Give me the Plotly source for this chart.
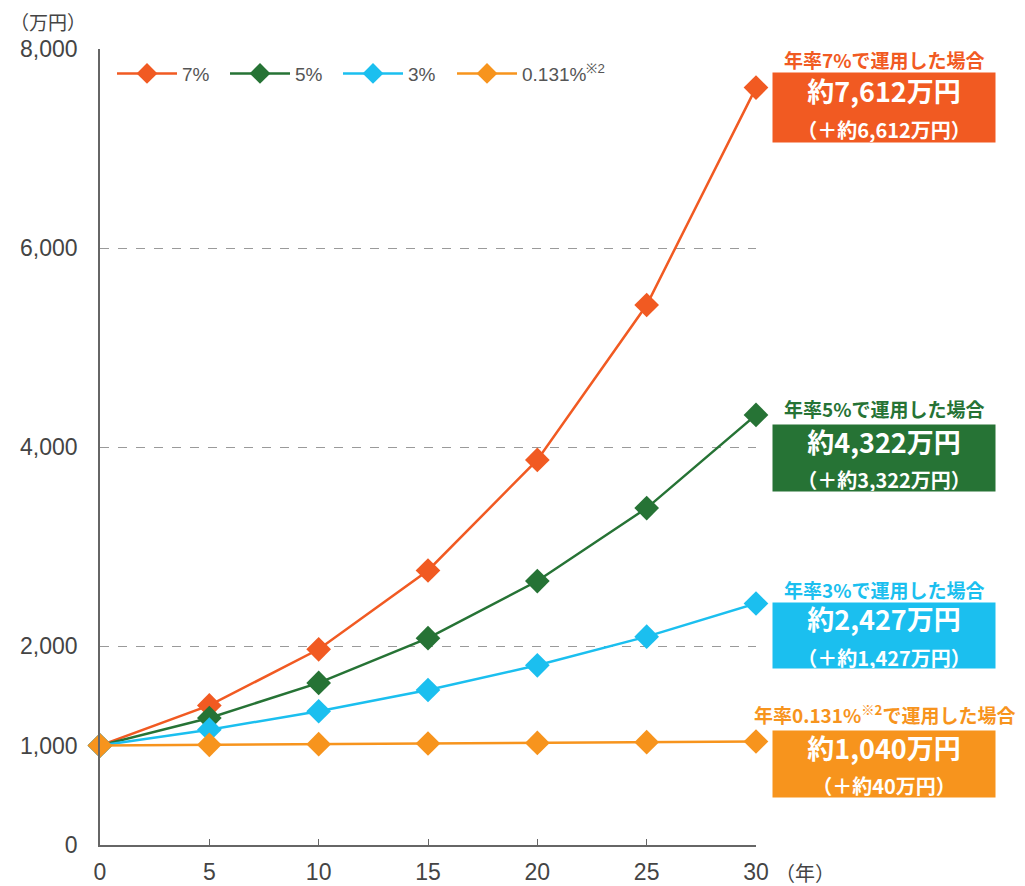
import plotly.graph_objects as go

years = [0, 5, 10, 15, 20, 25, 30]
series_names = ["7%", "5%", "3%", "0.131%<sup>※2</sup>"]
v7 = [1000, 1403, 1967, 2759, 3870, 5427, 7612]
v5 = [1000, 1276, 1629, 2079, 2653, 3386, 4322]
v3 = [1000, 1159, 1344, 1558, 1806, 2094, 2427]
v0131 = [1000, 1007, 1013, 1020, 1026, 1033, 1040]
colors = ["#F15A22", "#267335", "#1BBFEF", "#F7941D"]

y_tickvals = [0, 1000, 2000, 4000, 6000, 8000]
y_ticktext = ["0", "1,000", "2,000", "4,000", "6,000", "8,000"]
grid_vals = [2000, 4000, 6000, 8000]
x_tickvals = [0, 5, 10, 15, 20, 25, 30]

box_titles = ["年率7%で運用した場合", "年率5%で運用した場合", "年率3%で運用した場合",
              "年率0.131%<sup>※2</sup>で運用した場合"]
box_main = ["約7,612万円", "約4,322万円", "約2,427万円", "約1,040万円"]
box_sub = ["（＋約6,612万円）", "（＋約3,322万円）", "（＋約1,427万円）", "（＋約40万円）"]

fig = go.Figure()
legend_ids = ["legend", "legend", "legend", "legend2"]
for name, vals, c, lg in zip(series_names, [v7, v5, v3, v0131], colors, legend_ids):
    fig.add_trace(go.Scatter(
        x=years, y=vals, name=name, mode="lines+markers",
        line=dict(color=c, width=2.5),
        marker=dict(symbol="diamond", size=19, color=c, line=dict(width=0)),
        cliponaxis=False, legend=lg,
    ))

# invisible trace on second y axis for dashed grid
fig.add_trace(go.Scatter(x=[0], y=[0], yaxis="y2", showlegend=False,
                         mode="markers", marker=dict(opacity=0), hoverinfo="skip"))

tick_font = dict(family="Liberation Sans, Arial, sans-serif", size=23, color="#444444")
legend_font = dict(family="Liberation Sans, Arial, sans-serif", size=19, color="#555555")

# page body has an 8px margin; figure offset accordingly
W, H = 1017, 878
fig.update_layout(
    width=W, height=H,
    margin=dict(l=92, r=269, t=41, b=41, autoexpand=False),
    paper_bgcolor="white", plot_bgcolor="white",
    showlegend=True,
    legend=dict(orientation="h", x=0.0183, y=0.993, xanchor="left", yanchor="top",
                font=legend_font, itemwidth=60, entrywidth=38, entrywidthmode="pixels",
                bgcolor="rgba(0,0,0,0)", tracegroupgap=0),
    legend2=dict(orientation="h", x=0.5366, y=0.993, xanchor="left", yanchor="top",
                 font=legend_font, itemwidth=60,
                 bgcolor="rgba(0,0,0,0)", tracegroupgap=0),
    xaxis=dict(range=[0, 30], tickvals=x_tickvals, ticks="inside", ticklen=6,
               tickcolor="#666666", showline=True, linecolor="#666666", linewidth=1.5,
               showgrid=False, zeroline=False, tickfont=tick_font, ticklabelstandoff=6,
               automargin=False),
    yaxis=dict(range=[0, 8000], tickvals=y_tickvals, ticktext=y_ticktext, ticks="",
               showline=True, linecolor="#666666", linewidth=1.5, showgrid=False,
               zeroline=False, tickfont=tick_font, ticklabelstandoff=16, automargin=False),
    yaxis2=dict(range=[0, 8000], overlaying="y", tickvals=grid_vals, showticklabels=False,
                showgrid=True, gridcolor="#9a9a9a", griddash="dash", gridwidth=1,
                zeroline=False, showline=False, ticks="", automargin=False),
)

def px_x(px):
    return (px - 100) / 656.0

def px_y(py):
    return (845 - py) / 796.0

title_y = [59, 408, 589, 714]
box_y = [(73, 142), (425, 491), (603, 668), (731, 797)]
annos = []
cjk = "Noto Sans CJK JP, sans-serif"
for i in range(4):
    annos.append(dict(xref="paper", yref="paper", x=px_x(884), y=px_y(title_y[i]),
                      xanchor="center", yanchor="middle", showarrow=False,
                      text="<b>" + box_titles[i] + "</b>",
                      font=dict(family=cjk, size=19, color=colors[i])))
    y0, y1 = box_y[i]
    annos.append(dict(xref="paper", yref="paper", x=px_x(884), y=px_y((y0 + y1) / 2),
                      xanchor="center", yanchor="middle", showarrow=False,
                      width=222, height=y1 - y0, bgcolor=colors[i], borderpad=0,
                      text="<b>" + box_main[i] + "</b><br><span style='font-size:20px'><b>" + box_sub[i] + "</b></span>",
                      font=dict(family=cjk, size=27, color="white")))

annos.append(dict(xref="paper", yref="paper", x=px_x(48), y=px_y(22), xanchor="center",
                  yanchor="middle", showarrow=False, text="（万円）",
                  font=dict(family=cjk, size=19, color="#444444")))
annos.append(dict(xref="paper", yref="paper", x=px_x(773), y=px_y(872), xanchor="left",
                  yanchor="middle", showarrow=False, text="（年）",
                  font=dict(family=cjk, size=20, color="#444444")))
fig.update_layout(annotations=annos)

fig.write_html("out.html")
